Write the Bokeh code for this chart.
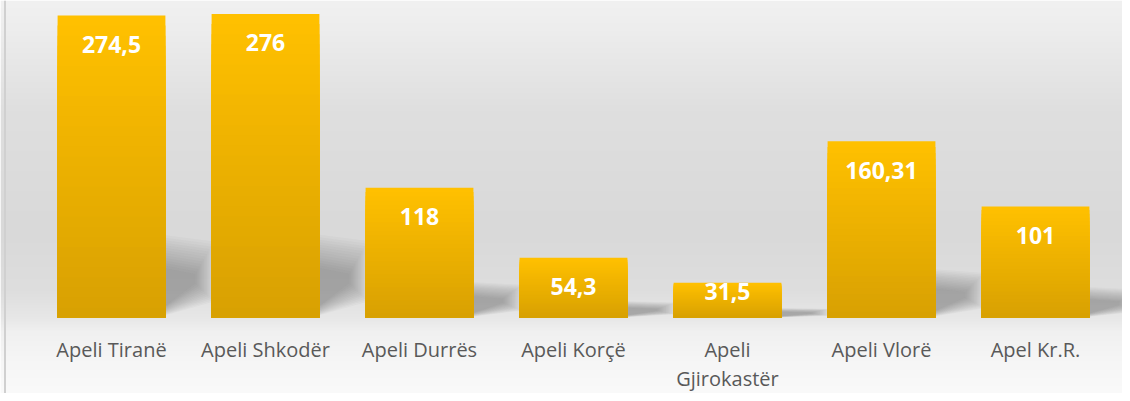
import textwrap
import numpy as np
from bokeh.plotting import figure
from bokeh.models import Range1d, Span
from bokeh.core.properties import value
from bokeh.embed import file_html
from bokeh.resources import INLINE

# ---- data ----
categories = ["Apeli Tiranë", "Apeli Shkodër", "Apeli Durrës", "Apeli Korçë",
              "Apeli Gjirokastër", "Apeli Vlorë", "Apel Kr.R."]
values = [274.5, 276, 118, 54.3, 31.5, 160.31, 101]
value_labels = ["274,5", "276", "118", "54,3", "31,5", "160,31", "101"]

# ---- layout constants ----
W, H = 1122, 393
PX_X = 154.0          # px per category slot
PX_Y = 1.1            # px per value unit
BASE_PX = 317         # baseline distance from top of frame
X_START = -111.0 / PX_X
BAR_W = 0.70

xs = list(range(len(categories)))
x_range = Range1d(X_START, X_START + W / PX_X)
y_range = Range1d(-(H - BASE_PX) / PX_Y, BASE_PX / PX_Y)

p = figure(width=W, height=H, x_range=x_range, y_range=y_range,
           output_backend="svg", toolbar_location=None,
           x_axis_location=None, y_axis_location=None,
           min_border=0, outline_line_color=None)
p.grid.visible = False
p.background_fill_color = "white"
p.border_fill_color = "white"

# ---- background vertical gradient ----
rows = np.arange(0, H)[::-1]  # bottom row first
stops_y = [0, 30, 110, 230, 290, 318, 330, 360, 401]
stops_g = [241, 237, 223, 217, 222, 232, 240, 246, 251]
g = np.interp(rows, stops_y, stops_g).astype(np.uint8)
img = np.empty((H, 2), dtype=np.uint32)
view = img.view(dtype=np.uint8).reshape((H, 2, 4))
for c in range(3):
    view[:, :, c] = g[:, None]
view[:, :, 3] = 255
p.image_rgba(image=[img], x=x_range.start, y=y_range.start,
             dw=x_range.end - x_range.start, dh=y_range.end - y_range.start)

# left border line
p.add_layout(Span(location=x_range.start + 4.5 / PX_X, dimension="height",
                  line_color="#D0D0D0", line_width=2))

# ---- soft shadows ----
dx = 0.30
L = 14
for j in range(L):
    t = j / (L - 1)
    sx, sy = [], []
    for x, v in zip(xs, values):
        r = x + BAR_W / 2
        hs = 0.24 * v
        xr = r + dx * (1.05 - 0.4 * t)
        sx.append([r - 0.05, r - 0.05, xr, xr])
        sy.append([hs * 0.08 * t, hs * (1.15 - 0.45 * t), hs * (1.05 - 0.45 * t),
                   hs * (0.22 + 0.25 * t)])
    p.patches(sx, sy, fill_color="#505050", fill_alpha=0.035, line_color=None)

# ---- bars with vertical gradient ----
top_c = np.array([255, 192, 0])
bot_c = np.array([215, 160, 2])
N = 30
for k in range(N):
    frac = 1 - k / N
    col = bot_c + (top_c - bot_c) * frac
    hexc = "#%02x%02x%02x" % tuple(int(round(c)) for c in col)
    p.vbar(x=xs, bottom=0, top=[v * frac for v in values], width=BAR_W,
           fill_color=hexc, line_color=None)

# ---- value labels ----
label_y = [max(v - 29 / PX_Y, 26 / PX_Y) for v in values]
p.text(x=xs, y=label_y, text=value_labels, text_color="white",
       text_font=value("Open Sans"), text_font_style="bold",
       text_font_size="23px", text_align="center", text_baseline="middle")

# ---- category labels ----
cat_text = [textwrap.fill(c, 15) for c in categories]
p.text(x=xs, y=[-18 / PX_Y] * len(xs), text=cat_text, text_color="#595959",
       text_font=value("Open Sans"), text_font_size="20px",
       text_align="center", text_baseline="top", text_line_height=1.1)

open("out.html", "w").write(file_html(p, INLINE))
